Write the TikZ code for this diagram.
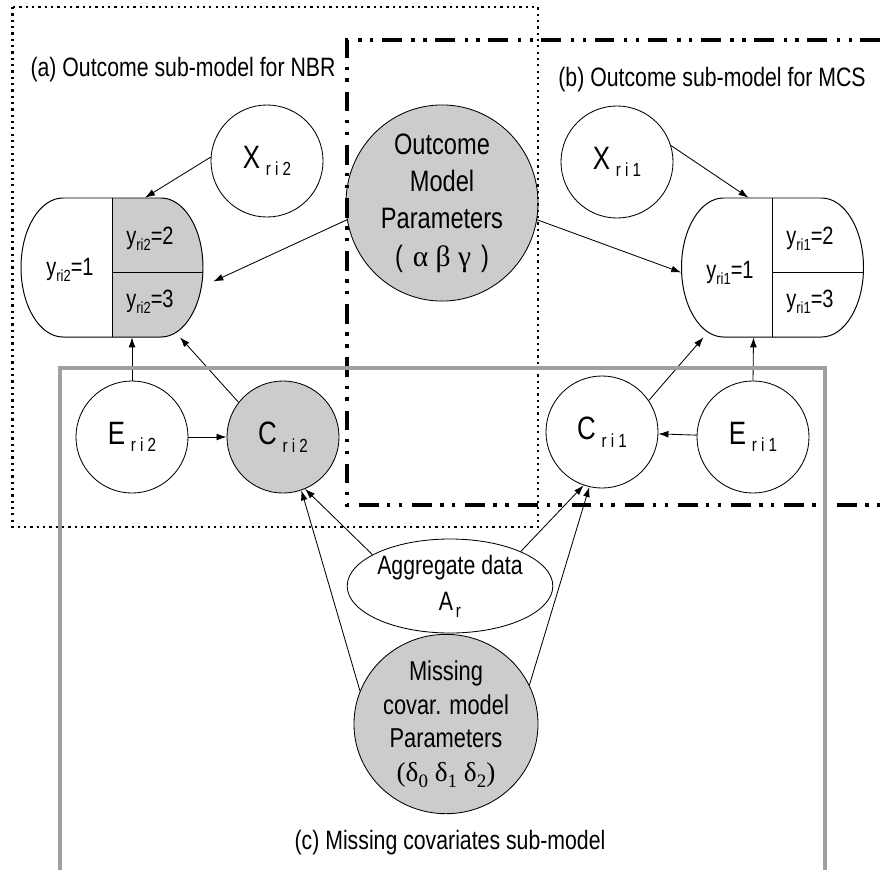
\documentclass[tikz,border=0pt]{standalone}
\usepackage{fontspec}
\setmainfont{Liberation Sans}[FakeStretch=0.8]
\newfontfamily\grkfont{Liberation Serif}
\usetikzlibrary{arrows.meta,positioning,calc,shapes.geometric}
\definecolor{paramgray}{RGB}{204,204,204}
\definecolor{framegray}{RGB}{160,160,160}
\newcommand{\lowtxt}[2][13.5]{\raisebox{-0.45ex}{\fontsize{#1}{#1}\selectfont #2}}
\newcommand{\spread}[3]{\lowtxt{#1\hspace{3pt}#2\hspace{3pt}#3}}

\begin{document}
\begin{tikzpicture}[x=0.025cm, y=-0.025cm,
    latent/.style={circle, draw, line width=0.6pt, minimum size=2.8cm, inner sep=0pt,
        font=\fontsize{23}{23}\selectfont},
    shaded/.style={fill=paramgray},
    param/.style={ellipse, draw, line width=0.6pt, fill=paramgray, align=center, inner sep=0pt},
    outcome/.style={rectangle, minimum width=4.55cm, minimum height=3.475cm, inner sep=0pt},
    ytext/.style={font=\fontsize{17.8}{17.8}\selectfont, inner sep=0pt},
    caption/.style={font=\fontsize{18.9}{18.9}\selectfont, inner sep=0pt},
    link/.style={-{Latex[length=2.5mm,width=1.7mm]}, line width=0.6pt}]
    \useasboundingbox (0,0) rectangle (880,870);

    % Draw outcome nodes (split ovals)
    \foreach \nm/\cx/\fc in {y2/112/paramgray, y1/772.5/white} {
        \node[outcome] (\nm) at (\cx,267.5) {};
        \fill[\fc] (\cx,198) -- ++(49,0)
            arc[start angle=-90, end angle=90, x radius=42, y radius=69.5] -- ++(-49,0) -- cycle;
        \draw[line width=0.7pt] (\cx-49,198) -- ++(98,0)
            arc[start angle=-90, end angle=90, x radius=42, y radius=69.5] -- ++(-98,0)
            arc[start angle=90, end angle=270, x radius=42, y radius=69.5] -- cycle;
        \draw[line width=0.7pt] (\nm.north) -- (\nm.south);
        \draw[line width=0.7pt] ($(\nm.center)+(0,5)$) -- ($(\nm.east)+(0,5)$);
    }
    \node[ytext] (y2a) at (70,270) {y\lowtxt[11.5]{ri2}=1};
    \node[ytext] (y2b) at (150,239) {y\lowtxt[11.5]{ri2}=2};
    \node[ytext] (y2c) at (150,302) {y\lowtxt[11.5]{ri2}=3};
    \node[ytext] (y1a) at (730,273) {y\lowtxt[11.5]{ri1}=1};
    \node[ytext] (y1b) at (810,239) {y\lowtxt[11.5]{ri1}=2};
    \node[ytext] (y1c) at (810,302) {y\lowtxt[11.5]{ri1}=3};

    % Draw covariate nodes
    \node[latent] (X2) at (267,161) {X\hspace{4pt}\spread ri2};
    \node[latent] (X1) at (617,162) {X\hspace{4pt}\spread ri1};
    \node[latent] (E2) at (132,437) {E\hspace{4pt}\spread ri2};
    \node[latent, shaded] (C2) at (283,437) {C\hspace{4pt}\spread ri2};
    \node[latent] (C1) at (602,432) {C\hspace{4pt}\spread ri1};
    \node[latent] (E1) at (753,437) {E\hspace{4pt}\spread ri1};

    % Draw parameter and data nodes
    \node[param, minimum width=4.8cm, minimum height=4.5cm,
        font=\fontsize{21}{26.5}\selectfont] (omp) at (442,203)
        {Outcome\\Model\\Parameters\\(\,\,{\grkfont α β γ}\,\,)};
    \node[ellipse, draw, line width=0.6pt, align=center, inner sep=0pt,
        minimum width=4.4cm, minimum height=2.35cm,
        font=\fontsize{18.9}{26}\selectfont] (agg) at (450,586)
        {Aggregate data\\A\hspace{2pt}\lowtxt{r}};
    \node[param, minimum width=4.6cm, minimum height=3.95cm,
        font=\fontsize{19.4}{24}\selectfont] (mcp) at (446,724)
        {Missing\\covar. model\\Parameters\\{\grkfont(δ\lowtxt{0} δ\lowtxt{1} δ\lowtxt{2})}};

    % Labels
    \node[caption] (labA) at (183,70) {(a) Outcome sub-model for NBR};
    \node[caption] (labB) at (712,80) {(b) Outcome sub-model for MCS};
    \node[caption] (labC) at (450,843) {(c) Missing covariates sub-model};

    % Draw arrows for NBR
    \draw[link] (X2.176) -- ($(y2.north)+(33,0)$);
    \draw[link] (omp.190) -- ($(y2.east)+(10,14)$);
    \draw[link] (E2.north) -- ($(y2.south)+(20,0)$);
    \draw[link] (C2.142) -- ($(y2.south)+(68,0)$);
    \draw[link] (E2) -- (C2);

    % Draw arrows for MCS
    \draw[link] (X1.17) -- ($(y1.north)+(-24,0)$);
    \draw[link] (omp.350) -- ($(y1.west)+(0,5)$);
    \draw[link] (E1.north) -- ($(y1.south)+(-19,0)$);
    \draw[link] (C1.34) -- ($(y1.south)+(-69,0)$);
    \draw[link] (E1) -- (C1);

    % Draw arrows for missing covariates
    \draw[link] (agg.158) -- (C2.293);
    \draw[link] (mcp.159) -- (C2.289);
    \draw[link] (agg.26) -- (C1.251);
    \draw[link] (mcp.25) -- (C1.257);

    % Draw sub-model frames
    \draw[line width=1.7pt, dash pattern=on 1.6pt off 2.9pt] (12.5,7) rectangle (538,527);
    \draw[line width=2.6pt, dash pattern=on 14pt off 6pt on 2.4pt off 6pt on 2.4pt off 7pt]
        (880,40) -- (347,40) -- (347,505) -- (880,505);
    \draw[framegray, line width=2.4pt] (60,870) -- (60,368) -- (825,368) -- (825,870);
\end{tikzpicture}
\end{document}
